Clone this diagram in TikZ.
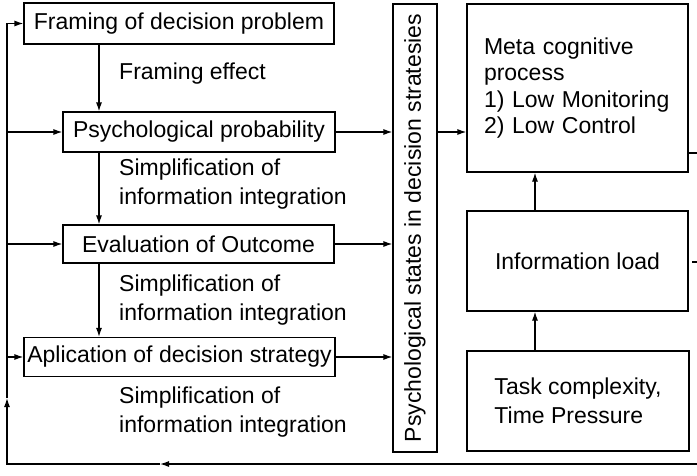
\documentclass[tikz,border=0pt]{standalone}
\usepackage{fontspec}
\setmainfont{Liberation Sans}
\usetikzlibrary{arrows.meta}
\begin{document}
\begin{tikzpicture}[x=1pt,y=-1pt,
  box/.style={draw, line width=1.2pt, inner sep=0pt, font=\fontsize{23}{27}\selectfont},
  lbl/.style={anchor=west, align=left, inner sep=0pt, font=\fontsize{23}{29}\selectfont},
  conn/.style={line width=1.2pt},
  arr/.style={line width=1.2pt, -{Latex[length=9pt,width=6pt]}}]
\useasboundingbox (0,0) rectangle (697,475);
% left column boxes
\node[box, minimum width=310pt, minimum height=41pt] (frame) at (179,23.5) {Framing of decision problem};
\node[box, minimum width=272pt, minimum height=40pt] (psy) at (199,132) {Psychological probability};
\node[box, minimum width=271pt, minimum height=38pt] (eval) at (198.5,244) {Evaluation of Outcome};
\node[box, minimum width=311pt, minimum height=39pt] (apl) at (179.5,357) {Aplication of decision strategy};
% vertical box
\node[box, rotate=90, minimum width=448pt, minimum height=44pt] (vbox) at (415,228) {Psychological states in decision stratesies};
% right column
\node[box, minimum width=221pt, minimum height=168pt, text width=187pt, inner xsep=17pt, align=left,
      font=\fontsize{23}{26.5}\selectfont] (meta) at (577.5,88)
  {Meta cognitive\\process\\1) Low Monitoring\\2) Low Control};
\node[box, minimum width=221pt, minimum height=100pt] (info) at (577.5,261) {Information load};
\node[box, minimum width=222pt, minimum height=100pt, align=left,
      font=\fontsize{23}{29}\selectfont] (task) at (578,401) {Task complexity,\\Time Pressure};
% labels
\node[lbl] (fe) at (119,74) {Framing effect};
\node[lbl] (s1) at (119,184.5) {Simplification of\\information integration};
\node[lbl] (s2) at (119,300) {Simplification of\\information integration};
\node[lbl] (s3) at (119,412) {Simplification of\\information integration};
% down arrows
\coordinate (dx) at (99,0);
\draw[arr] (frame.south -| dx) -- (psy.north -| dx);
\draw[arr] (psy.south -| dx) -- (eval.north -| dx);
\draw[arr] (eval.south -| dx) -- (apl.north -| dx);
% to vertical box
\draw[arr] (psy.east) -- (psy.east -| vbox.north);
\draw[arr] (eval.east) -- (eval.east -| vbox.north);
\draw[arr] (apl.east) -- (apl.east -| vbox.north);
\draw[arr] (vbox.south |- psy.east) -- (meta.west |- psy.east);
% right column arrows
\coordinate (ax) at (535,0);
\draw[arr] (info.north -| ax) -- (meta.south -| ax);
\draw[arr] (task.north -| ax) -- (info.south -| ax);
% right stubs
\coordinate (r1) at (697,153);
\draw[conn] (meta.east |- r1) -- (r1);
\coordinate (r2a) at (692,262);
\coordinate (r2b) at (697,262);
\draw[conn] (r2a) -- (r2b);
% feedback loop
\coordinate (br) at (697,464);
\coordinate (bm) at (160,464);
\coordinate (bl) at (7,464);
\coordinate (lu) at (7,398);
\draw[arr] (br) -- (bm);
\draw[arr] (bm) -- (bl) -- (lu);
\draw[arr] (lu) -- (lu |- frame.west) -- (frame.west);
\draw[arr] (lu |- psy.west) -- (psy.west);
\draw[arr] (lu |- eval.west) -- (eval.west);
\draw[arr] (lu |- apl.west) -- (apl.west);
\end{tikzpicture}
\end{document}
